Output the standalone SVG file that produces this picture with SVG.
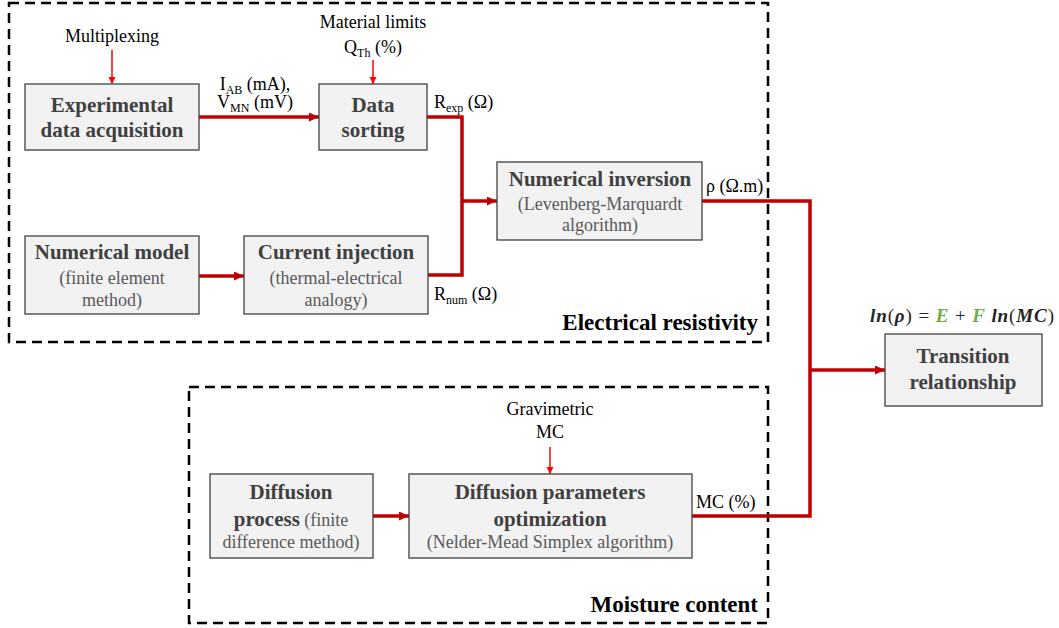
<svg xmlns="http://www.w3.org/2000/svg" width="1059" height="628" viewBox="0 0 1059 628">
<style>
text{font-family:"Liberation Serif","Times New Roman",serif;}
.box{fill:#F2F2F2;stroke:#404040;stroke-width:1.3;}
.ttl{font-size:21px;font-weight:bold;fill:#404040;text-anchor:middle;}
.sub{font-size:18px;fill:#595959;text-anchor:middle;}
.lbl{font-size:18px;fill:#000;}
.sec{font-size:23px;font-weight:bold;fill:#000;text-anchor:end;}
.frame{fill:none;stroke:#000;stroke-width:2.5;stroke-dasharray:10 6;}
.thick{fill:none;stroke:#C00000;stroke-width:3.5;}
.thin{fill:none;stroke:#FF0000;stroke-width:1.5;}
.bi{font-weight:bold;font-style:italic;}
</style>
<defs>
<marker id="ah" markerUnits="userSpaceOnUse" markerWidth="11" markerHeight="10" refX="10" refY="4.5" orient="auto">
<path d="M0,0 L10,4.5 L0,9 z" fill="#C00000"/>
</marker>
<marker id="ahs" markerUnits="userSpaceOnUse" markerWidth="8" markerHeight="8" refX="7" refY="3.5" orient="auto">
<path d="M0,0 L7,3.5 L0,7 z" fill="#FF0000"/>
</marker>
</defs>
<g id="frames">
<rect class="frame" x="9" y="3" width="759" height="339"/>
<rect class="frame" x="189" y="387" width="579" height="236"/>
<text class="sec" x="758" y="330">Electrical resistivity</text>
<text class="sec" x="758" y="612">Moisture content</text>
</g>
<g id="connectors">
<line class="thin" x1="112" y1="50" x2="112" y2="84" marker-end="url(#ahs)"/>
<line class="thin" x1="373" y1="60" x2="373" y2="84" marker-end="url(#ahs)"/>
<line class="thin" x1="550" y1="447" x2="550" y2="474" marker-end="url(#ahs)"/>
<line class="thick" x1="199" y1="117" x2="319" y2="117" marker-end="url(#ah)"/>
<path class="thick" d="M427,117 H462 V275 H428"/>
<line class="thick" x1="462" y1="201" x2="497" y2="201" marker-end="url(#ah)"/>
<line class="thick" x1="199" y1="276" x2="244" y2="276" marker-end="url(#ah)"/>
<path class="thick" d="M702,201 H810 V516 H692"/>
<line class="thick" x1="810" y1="370" x2="885" y2="370" marker-end="url(#ah)"/>
<line class="thick" x1="373" y1="516" x2="409" y2="516" marker-end="url(#ah)"/>
</g>
<g id="labels">
<text class="lbl" x="112" y="42" text-anchor="middle">Multiplexing</text>
<text class="lbl" x="373" y="28" text-anchor="middle">Material limits</text>
<text class="lbl" x="373" y="53" text-anchor="middle">Q<tspan font-size="12" dy="4">Th</tspan><tspan dy="-4"> (%)</tspan></text>
<text class="lbl" x="255" y="90" text-anchor="middle">I<tspan font-size="12" dy="4">AB</tspan><tspan dy="-4"> (mA),</tspan></text>
<text class="lbl" x="255" y="108" text-anchor="middle">V<tspan font-size="12" dy="4">MN</tspan><tspan dy="-4"> (mV)</tspan></text>
<text class="lbl" x="434" y="108">R<tspan font-size="12" dy="4">exp</tspan><tspan dy="-4"> (Ω)</tspan></text>
<text class="lbl" x="434" y="300">R<tspan font-size="12" dy="4">num</tspan><tspan dy="-4"> (Ω)</tspan></text>
<text class="lbl" x="706" y="192">ρ (Ω.m)</text>
<text class="lbl" x="696" y="508">MC (%)</text>
<text class="lbl" x="550" y="415" text-anchor="middle">Gravimetric</text>
<text class="lbl" x="550" y="438" text-anchor="middle">MC</text>
<text x="870" y="322" font-size="19" fill="#262626" textLength="184" lengthAdjust="spacing"><tspan class="bi">ln</tspan>(<tspan class="bi">ρ</tspan>) = <tspan class="bi" fill="#70AD47">E</tspan> + <tspan class="bi" fill="#70AD47">F</tspan> <tspan class="bi">ln</tspan>(<tspan class="bi">MC</tspan>)</text>
</g>
<g id="node-exp">
<rect class="box" x="25" y="84" width="174" height="66"/>
<text class="ttl" x="112" y="112">Experimental</text>
<text class="ttl" x="112" y="137">data acquisition</text>
</g>
<g id="node-sort">
<rect class="box" x="319" y="84" width="108" height="66"/>
<text class="ttl" x="373" y="112">Data</text>
<text class="ttl" x="373" y="137">sorting</text>
</g>
<g id="node-inversion">
<rect class="box" x="497" y="162" width="205" height="78"/>
<text class="ttl" x="600" y="186">Numerical inversion</text>
<text class="sub" x="600" y="210">(Levenberg-Marquardt</text>
<text class="sub" x="600" y="231">algorithm)</text>
</g>
<g id="node-model">
<rect class="box" x="25" y="236" width="174" height="78"/>
<text class="ttl" x="112" y="259">Numerical model</text>
<text class="sub" x="112" y="284">(finite element</text>
<text class="sub" x="112" y="306">method)</text>
</g>
<g id="node-injection">
<rect class="box" x="244" y="236" width="184" height="78"/>
<text class="ttl" x="336" y="259">Current injection</text>
<text class="sub" x="336" y="284">(thermal-electrical</text>
<text class="sub" x="336" y="306">analogy)</text>
</g>
<g id="node-transition">
<rect class="box" x="885" y="334" width="157" height="72"/>
<text class="ttl" x="963" y="363">Transition</text>
<text class="ttl" x="963" y="389">relationship</text>
</g>
<g id="node-diffusion">
<rect class="box" x="210" y="474" width="163" height="84"/>
<text class="ttl" x="291" y="499">Diffusion</text>
<text class="ttl" x="291" y="526">process<tspan font-weight="normal" font-size="18" fill="#595959"> (finite</tspan></text>
<text class="sub" x="291" y="548">difference method)</text>
</g>
<g id="node-optim">
<rect class="box" x="409" y="474" width="283" height="84"/>
<text class="ttl" x="550" y="499">Diffusion parameters</text>
<text class="ttl" x="550" y="526">optimization</text>
<text class="sub" x="550" y="548">(Nelder-Mead Simplex algorithm)</text>
</g>
</svg>
